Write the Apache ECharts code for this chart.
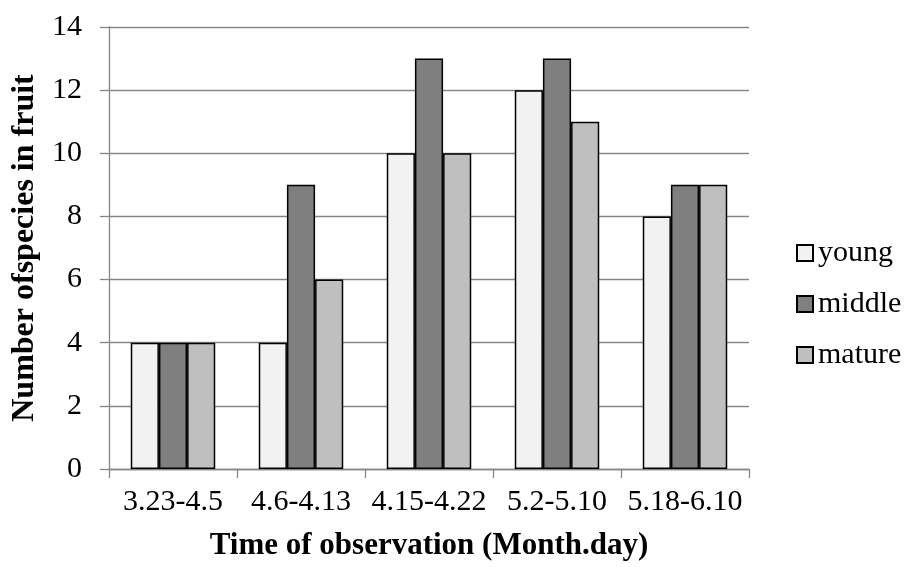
<!DOCTYPE html>
<html><head><meta charset="utf-8">
<script src="https://cdn.jsdelivr.net/npm/echarts@6/dist/echarts.min.js"></script>
<style>html,body{margin:0;padding:0;background:#fff}#c{width:907px;height:567px}</style>
</head><body><div id="c"></div>
<script>
const categories = ['3.23-4.5','4.6-4.13','4.15-4.22','5.2-5.10','5.18-6.10'];
const young = [4,4,10,12,8];
const middle = [4,9,13,13,9];
const mature = [4,6,10,11,9];
const seriesNames = ['young','middle','mature'];
const font = 'Liberation Serif, Times New Roman, serif';
const chart = echarts.init(document.getElementById('c'));
const barStyle = c => ({color:c, borderColor:'#000', borderWidth:1.5});
chart.setOption({
  animation:false,
  textStyle:{fontFamily:font},
  grid:{left:109,right:158,top:27,bottom:98,containLabel:false},
  legend:{orient:'vertical',left:791,top:233,itemGap:21,itemWidth:16,itemHeight:16,
    icon:'rect',
    textStyle:{fontFamily:font,fontSize:30,color:'#000'},
    data:seriesNames},
  xAxis:{type:'category',data:categories,
    name:'Time of observation (Month.day)',nameLocation:'middle',nameGap:61,
    nameTextStyle:{fontFamily:font,fontSize:31,fontWeight:'bold',color:'#000'},
    axisLine:{lineStyle:{color:'#868686',width:1.3}},
    axisTick:{show:true,length:9,lineStyle:{color:'#868686',width:1.3}},
    axisLabel:{fontFamily:font,fontSize:30,color:'#000',margin:18,interval:0}},
  yAxis:{type:'value',min:0,max:14,interval:2,
    name:'Number ofspecies in fruit',nameLocation:'middle',nameGap:67,nameRotate:90,
    nameTextStyle:{fontFamily:font,fontSize:32,fontWeight:'bold',color:'#000'},
    axisLine:{show:true,lineStyle:{color:'#868686',width:1.3}},
    axisTick:{show:true,length:9,lineStyle:{color:'#868686',width:1.3}},
    splitLine:{lineStyle:{color:'#868686',width:1.3}},
    axisLabel:{fontFamily:font,fontSize:30,color:'#000',margin:27}},
  series:[
    {name:'young',type:'bar',data:young,barGap:'0%',barCategoryGap:'34%',itemStyle:barStyle('#f2f2f2')},
    {name:'middle',type:'bar',data:middle,barGap:'0%',barCategoryGap:'34%',itemStyle:barStyle('#7f7f7f')},
    {name:'mature',type:'bar',data:mature,barGap:'0%',barCategoryGap:'34%',itemStyle:barStyle('#bfbfbf')}
  ]
});
</script></body></html>
